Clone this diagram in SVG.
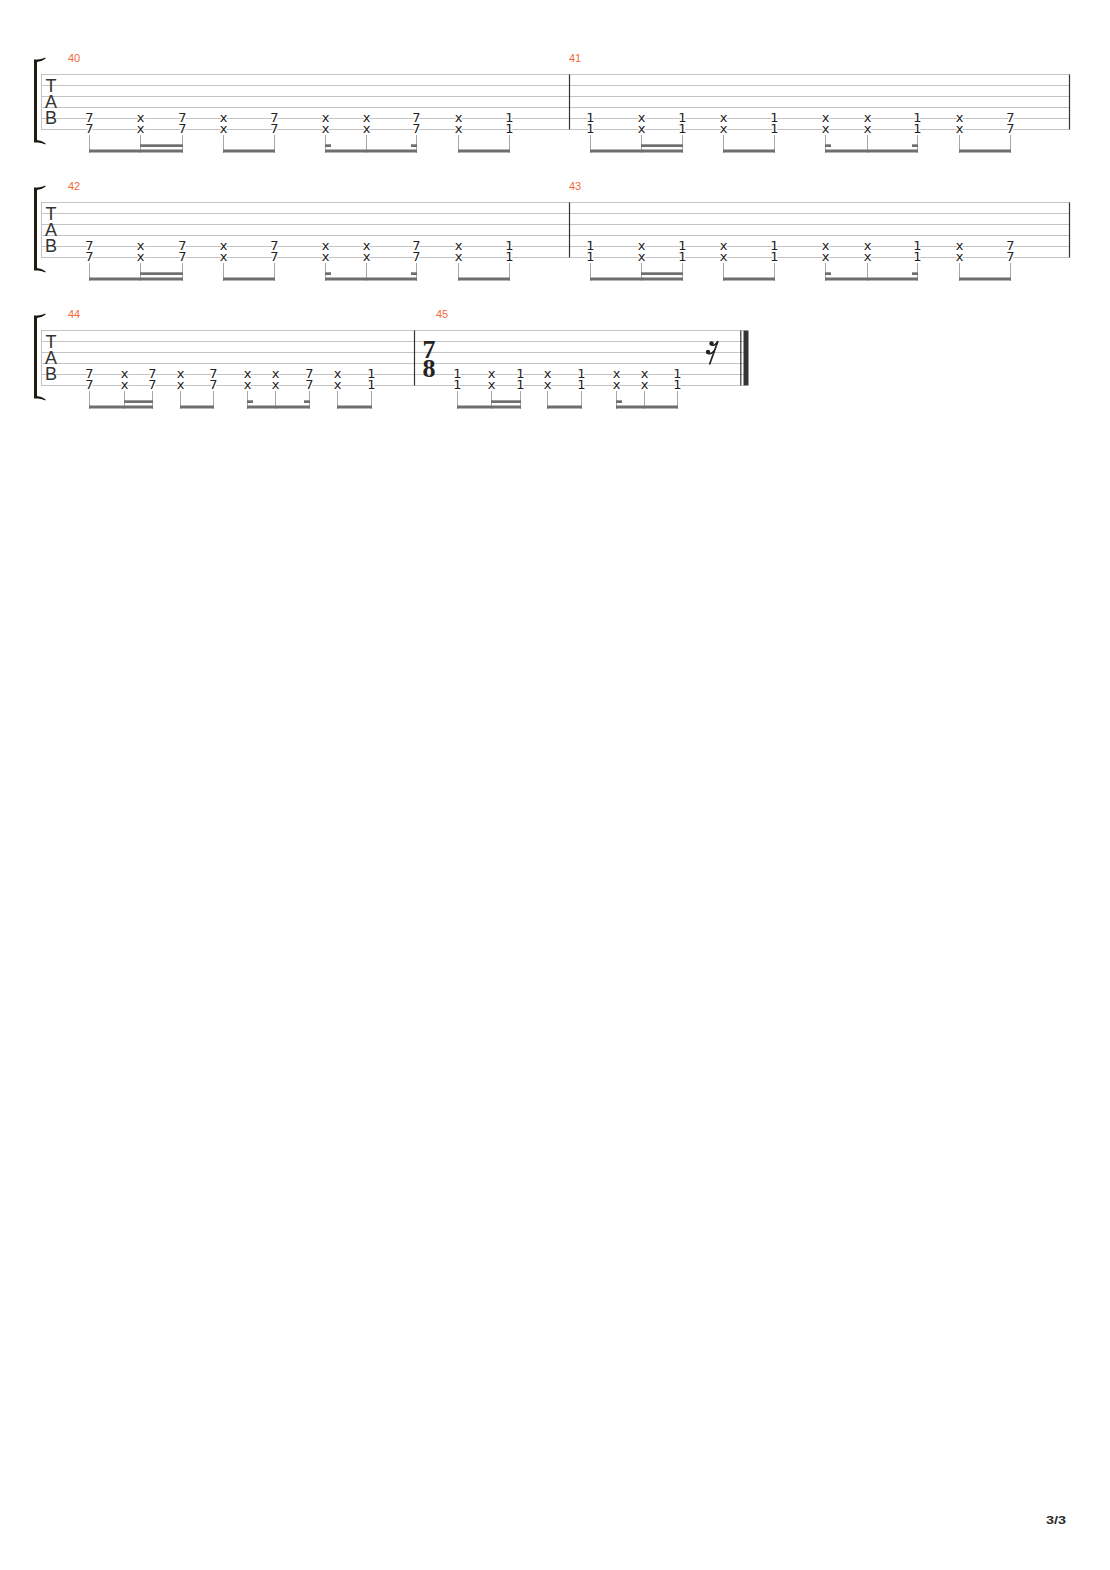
<svg xmlns="http://www.w3.org/2000/svg" xmlns:xlink="http://www.w3.org/1999/xlink" width="1110" height="1570" viewBox="0 0 1110 1570">
<style>
.sl{stroke:#c4c4c4;stroke-width:1;fill:none}
.bl{stroke:#333;stroke-width:1.2}
.n{font-family:"DejaVu Sans",sans-serif;font-size:13px;fill:#222;text-anchor:middle;paint-order:stroke;stroke:#fff;stroke-width:3px;stroke-linejoin:round}
.st{stroke:#a8a8a8;stroke-width:1}
.bm{fill:#6e6e6e}
.mn{font-family:"Liberation Sans",Arial,sans-serif;font-size:11px;fill:#f26a3a}
.tab{font-family:"Liberation Sans",Arial,sans-serif;font-size:18px;fill:#333;text-anchor:middle}
.br{fill:#1c1c10}
.ts{font-family:"Liberation Serif","Times New Roman",serif;font-weight:bold;font-size:26px;fill:#222;text-anchor:middle}
</style>
<defs>
<g id="staffhead">
<path class="br" d="M34,59.5 L38,59.5 Q42,59 45.5,57.5 L45.5,58.7 Q41.5,61.5 37,62 L37,140 Q41.5,140.5 45.5,143.3 L45.5,144.5 Q42,143 38,142.5 L34,142.5 Z"/>
<line class="sl" x1="41.5" y1="74.5" x2="41.5" y2="129.5"/>
<text class="tab" x="51" y="91.5">T</text>
<text class="tab" x="51" y="108">A</text>
<text class="tab" x="51" y="124.3">B</text>
</g>
</defs>
<rect width="1110" height="1570" fill="#fff"/>

<!-- System 1 -->
<g id="system1">
<g class="staff">
<line class="sl" x1="41" y1="74.5" x2="1070" y2="74.5"/>
<line class="sl" x1="41" y1="85.5" x2="1070" y2="85.5"/>
<line class="sl" x1="41" y1="96.5" x2="1070" y2="96.5"/>
<line class="sl" x1="41" y1="107.5" x2="1070" y2="107.5"/>
<line class="sl" x1="41" y1="118.5" x2="1070" y2="118.5"/>
<line class="sl" x1="41" y1="129.5" x2="1070" y2="129.5"/>
</g>
<use xlink:href="#staffhead"/>
<line class="bl" x1="569.5" y1="74.5" x2="569.5" y2="129.5"/>
<line class="bl" x1="1069.5" y1="74.5" x2="1069.5" y2="129.5"/>
<g id="m40">
<text class="mn" x="68" y="62">40</text>
<text class="n" x="89.5" y="121.5">7</text><text class="n" x="89.5" y="132.5">7</text>
<text class="n" x="140.5" y="121.5">x</text><text class="n" x="140.5" y="132.5">x</text>
<text class="n" x="182.5" y="121.5">7</text><text class="n" x="182.5" y="132.5">7</text>
<text class="n" x="223.5" y="121.5">x</text><text class="n" x="223.5" y="132.5">x</text>
<text class="n" x="274.5" y="121.5">7</text><text class="n" x="274.5" y="132.5">7</text>
<text class="n" x="325.5" y="121.5">x</text><text class="n" x="325.5" y="132.5">x</text>
<text class="n" x="366.5" y="121.5">x</text><text class="n" x="366.5" y="132.5">x</text>
<text class="n" x="416.5" y="121.5">7</text><text class="n" x="416.5" y="132.5">7</text>
<text class="n" x="458.5" y="121.5">x</text><text class="n" x="458.5" y="132.5">x</text>
<text class="n" x="509.5" y="121.5">1</text><text class="n" x="509.5" y="132.5">1</text>
</g>
<g id="m41">
<text class="mn" x="569" y="62">41</text>
<text class="n" x="590.5" y="121.5">1</text><text class="n" x="590.5" y="132.5">1</text>
<text class="n" x="641.5" y="121.5">x</text><text class="n" x="641.5" y="132.5">x</text>
<text class="n" x="682.5" y="121.5">1</text><text class="n" x="682.5" y="132.5">1</text>
<text class="n" x="723.5" y="121.5">x</text><text class="n" x="723.5" y="132.5">x</text>
<text class="n" x="774.5" y="121.5">1</text><text class="n" x="774.5" y="132.5">1</text>
<text class="n" x="825.5" y="121.5">x</text><text class="n" x="825.5" y="132.5">x</text>
<text class="n" x="867.5" y="121.5">x</text><text class="n" x="867.5" y="132.5">x</text>
<text class="n" x="917.5" y="121.5">1</text><text class="n" x="917.5" y="132.5">1</text>
<text class="n" x="959.5" y="121.5">x</text><text class="n" x="959.5" y="132.5">x</text>
<text class="n" x="1010.5" y="121.5">7</text><text class="n" x="1010.5" y="132.5">7</text>
</g>
<g id="beams1">
<g class="stems">
<line class="st" x1="89.5" y1="135" x2="89.5" y2="153"/><line class="st" x1="140.5" y1="135" x2="140.5" y2="153"/><line class="st" x1="182.5" y1="135" x2="182.5" y2="153"/><line class="st" x1="223.5" y1="135" x2="223.5" y2="153"/><line class="st" x1="274.5" y1="135" x2="274.5" y2="153"/><line class="st" x1="325.5" y1="135" x2="325.5" y2="153"/><line class="st" x1="366.5" y1="135" x2="366.5" y2="153"/><line class="st" x1="416.5" y1="135" x2="416.5" y2="153"/><line class="st" x1="458.5" y1="135" x2="458.5" y2="153"/><line class="st" x1="509.5" y1="135" x2="509.5" y2="153"/>
<line class="st" x1="590.5" y1="135" x2="590.5" y2="153"/><line class="st" x1="641.5" y1="135" x2="641.5" y2="153"/><line class="st" x1="682.5" y1="135" x2="682.5" y2="153"/><line class="st" x1="723.5" y1="135" x2="723.5" y2="153"/><line class="st" x1="774.5" y1="135" x2="774.5" y2="153"/><line class="st" x1="825.5" y1="135" x2="825.5" y2="153"/><line class="st" x1="867.5" y1="135" x2="867.5" y2="153"/><line class="st" x1="917.5" y1="135" x2="917.5" y2="153"/><line class="st" x1="959.5" y1="135" x2="959.5" y2="153"/><line class="st" x1="1010.5" y1="135" x2="1010.5" y2="153"/>
</g>
<rect class="bm" x="89" y="149.5" width="94" height="3"/><rect class="bm" x="223" y="149.5" width="52" height="3"/><rect class="bm" x="325" y="149.5" width="92" height="3"/><rect class="bm" x="458" y="149.5" width="52" height="3"/>
<rect class="bm" x="140" y="144.3" width="43" height="2.7"/><rect class="bm" x="325" y="144.3" width="6" height="2.7"/><rect class="bm" x="411" y="144.3" width="6" height="2.7"/>
<rect class="bm" x="590" y="149.5" width="93" height="3"/><rect class="bm" x="723" y="149.5" width="52" height="3"/><rect class="bm" x="825" y="149.5" width="93" height="3"/><rect class="bm" x="959" y="149.5" width="52" height="3"/>
<rect class="bm" x="641" y="144.3" width="42" height="2.7"/><rect class="bm" x="825" y="144.3" width="6" height="2.7"/><rect class="bm" x="912" y="144.3" width="6" height="2.7"/>
</g>
</g>

<!-- System 2 -->
<g id="system2" transform="translate(0,128)">
<g class="staff">
<line class="sl" x1="41" y1="74.5" x2="1070" y2="74.5"/>
<line class="sl" x1="41" y1="85.5" x2="1070" y2="85.5"/>
<line class="sl" x1="41" y1="96.5" x2="1070" y2="96.5"/>
<line class="sl" x1="41" y1="107.5" x2="1070" y2="107.5"/>
<line class="sl" x1="41" y1="118.5" x2="1070" y2="118.5"/>
<line class="sl" x1="41" y1="129.5" x2="1070" y2="129.5"/>
</g>
<use xlink:href="#staffhead"/>
<line class="bl" x1="569.5" y1="74.5" x2="569.5" y2="129.5"/>
<line class="bl" x1="1069.5" y1="74.5" x2="1069.5" y2="129.5"/>
<g id="m42">
<text class="mn" x="68" y="62">42</text>
<text class="n" x="89.5" y="121.5">7</text><text class="n" x="89.5" y="132.5">7</text>
<text class="n" x="140.5" y="121.5">x</text><text class="n" x="140.5" y="132.5">x</text>
<text class="n" x="182.5" y="121.5">7</text><text class="n" x="182.5" y="132.5">7</text>
<text class="n" x="223.5" y="121.5">x</text><text class="n" x="223.5" y="132.5">x</text>
<text class="n" x="274.5" y="121.5">7</text><text class="n" x="274.5" y="132.5">7</text>
<text class="n" x="325.5" y="121.5">x</text><text class="n" x="325.5" y="132.5">x</text>
<text class="n" x="366.5" y="121.5">x</text><text class="n" x="366.5" y="132.5">x</text>
<text class="n" x="416.5" y="121.5">7</text><text class="n" x="416.5" y="132.5">7</text>
<text class="n" x="458.5" y="121.5">x</text><text class="n" x="458.5" y="132.5">x</text>
<text class="n" x="509.5" y="121.5">1</text><text class="n" x="509.5" y="132.5">1</text>
</g>
<g id="m43">
<text class="mn" x="569" y="62">43</text>
<text class="n" x="590.5" y="121.5">1</text><text class="n" x="590.5" y="132.5">1</text>
<text class="n" x="641.5" y="121.5">x</text><text class="n" x="641.5" y="132.5">x</text>
<text class="n" x="682.5" y="121.5">1</text><text class="n" x="682.5" y="132.5">1</text>
<text class="n" x="723.5" y="121.5">x</text><text class="n" x="723.5" y="132.5">x</text>
<text class="n" x="774.5" y="121.5">1</text><text class="n" x="774.5" y="132.5">1</text>
<text class="n" x="825.5" y="121.5">x</text><text class="n" x="825.5" y="132.5">x</text>
<text class="n" x="867.5" y="121.5">x</text><text class="n" x="867.5" y="132.5">x</text>
<text class="n" x="917.5" y="121.5">1</text><text class="n" x="917.5" y="132.5">1</text>
<text class="n" x="959.5" y="121.5">x</text><text class="n" x="959.5" y="132.5">x</text>
<text class="n" x="1010.5" y="121.5">7</text><text class="n" x="1010.5" y="132.5">7</text>
</g>
<g id="beams2">
<g class="stems">
<line class="st" x1="89.5" y1="135" x2="89.5" y2="153"/><line class="st" x1="140.5" y1="135" x2="140.5" y2="153"/><line class="st" x1="182.5" y1="135" x2="182.5" y2="153"/><line class="st" x1="223.5" y1="135" x2="223.5" y2="153"/><line class="st" x1="274.5" y1="135" x2="274.5" y2="153"/><line class="st" x1="325.5" y1="135" x2="325.5" y2="153"/><line class="st" x1="366.5" y1="135" x2="366.5" y2="153"/><line class="st" x1="416.5" y1="135" x2="416.5" y2="153"/><line class="st" x1="458.5" y1="135" x2="458.5" y2="153"/><line class="st" x1="509.5" y1="135" x2="509.5" y2="153"/>
<line class="st" x1="590.5" y1="135" x2="590.5" y2="153"/><line class="st" x1="641.5" y1="135" x2="641.5" y2="153"/><line class="st" x1="682.5" y1="135" x2="682.5" y2="153"/><line class="st" x1="723.5" y1="135" x2="723.5" y2="153"/><line class="st" x1="774.5" y1="135" x2="774.5" y2="153"/><line class="st" x1="825.5" y1="135" x2="825.5" y2="153"/><line class="st" x1="867.5" y1="135" x2="867.5" y2="153"/><line class="st" x1="917.5" y1="135" x2="917.5" y2="153"/><line class="st" x1="959.5" y1="135" x2="959.5" y2="153"/><line class="st" x1="1010.5" y1="135" x2="1010.5" y2="153"/>
</g>
<rect class="bm" x="89" y="149.5" width="94" height="3"/><rect class="bm" x="223" y="149.5" width="52" height="3"/><rect class="bm" x="325" y="149.5" width="92" height="3"/><rect class="bm" x="458" y="149.5" width="52" height="3"/>
<rect class="bm" x="140" y="144.3" width="43" height="2.7"/><rect class="bm" x="325" y="144.3" width="6" height="2.7"/><rect class="bm" x="411" y="144.3" width="6" height="2.7"/>
<rect class="bm" x="590" y="149.5" width="93" height="3"/><rect class="bm" x="723" y="149.5" width="52" height="3"/><rect class="bm" x="825" y="149.5" width="93" height="3"/><rect class="bm" x="959" y="149.5" width="52" height="3"/>
<rect class="bm" x="641" y="144.3" width="42" height="2.7"/><rect class="bm" x="825" y="144.3" width="6" height="2.7"/><rect class="bm" x="912" y="144.3" width="6" height="2.7"/>
</g>
</g>

<!-- System 3 -->
<g id="system3" transform="translate(0,256)">
<g class="staff">
<line class="sl" x1="41" y1="74.5" x2="745" y2="74.5"/>
<line class="sl" x1="41" y1="85.5" x2="745" y2="85.5"/>
<line class="sl" x1="41" y1="96.5" x2="745" y2="96.5"/>
<line class="sl" x1="41" y1="107.5" x2="745" y2="107.5"/>
<line class="sl" x1="41" y1="118.5" x2="745" y2="118.5"/>
<line class="sl" x1="41" y1="129.5" x2="745" y2="129.5"/>
</g>
<use xlink:href="#staffhead"/>
<line class="bl" x1="414.5" y1="74.5" x2="414.5" y2="129.5"/>
<line class="bl" x1="740.8" y1="74.5" x2="740.8" y2="129.5"/>
<rect x="743.5" y="74.5" width="5" height="55" fill="#333"/>
<g id="m44">
<text class="mn" x="68" y="62">44</text>
<text class="n" x="89.5" y="121.5">7</text><text class="n" x="89.5" y="132.5">7</text>
<text class="n" x="124.5" y="121.5">x</text><text class="n" x="124.5" y="132.5">x</text>
<text class="n" x="152.5" y="121.5">7</text><text class="n" x="152.5" y="132.5">7</text>
<text class="n" x="180.5" y="121.5">x</text><text class="n" x="180.5" y="132.5">x</text>
<text class="n" x="213.5" y="121.5">7</text><text class="n" x="213.5" y="132.5">7</text>
<text class="n" x="247.5" y="121.5">x</text><text class="n" x="247.5" y="132.5">x</text>
<text class="n" x="275.5" y="121.5">x</text><text class="n" x="275.5" y="132.5">x</text>
<text class="n" x="309.5" y="121.5">7</text><text class="n" x="309.5" y="132.5">7</text>
<text class="n" x="337.5" y="121.5">x</text><text class="n" x="337.5" y="132.5">x</text>
<text class="n" x="371.5" y="121.5">1</text><text class="n" x="371.5" y="132.5">1</text>
</g>
<g id="m45">
<text class="mn" x="436" y="62">45</text>
<text class="ts" x="429" y="102">7</text>
<text class="ts" x="429" y="121">8</text>
<text class="n" x="457.5" y="121.5">1</text><text class="n" x="457.5" y="132.5">1</text>
<text class="n" x="491.5" y="121.5">x</text><text class="n" x="491.5" y="132.5">x</text>
<text class="n" x="520.5" y="121.5">1</text><text class="n" x="520.5" y="132.5">1</text>
<text class="n" x="547.5" y="121.5">x</text><text class="n" x="547.5" y="132.5">x</text>
<text class="n" x="581.5" y="121.5">1</text><text class="n" x="581.5" y="132.5">1</text>
<text class="n" x="616.5" y="121.5">x</text><text class="n" x="616.5" y="132.5">x</text>
<text class="n" x="644.5" y="121.5">x</text><text class="n" x="644.5" y="132.5">x</text>
<text class="n" x="677.5" y="121.5">1</text><text class="n" x="677.5" y="132.5">1</text>
<g id="rest16" fill="#222" stroke="#222">
<line x1="718" y1="85" x2="709.5" y2="108.5" stroke-width="1.7"/>
<circle cx="711.5" cy="87.5" r="2.2" stroke="none"/>
<circle cx="708" cy="96" r="2.2" stroke="none"/>
<path d="M711.5,89 Q714,90.5 717.6,86" fill="none" stroke-width="1.4"/>
<path d="M708,97.5 Q711,99 714.4,94.5" fill="none" stroke-width="1.4"/>
</g>
</g>
<g id="beams3">
<g class="stems">
<line class="st" x1="89.5" y1="135" x2="89.5" y2="153"/><line class="st" x1="124.5" y1="135" x2="124.5" y2="153"/><line class="st" x1="152.5" y1="135" x2="152.5" y2="153"/><line class="st" x1="180.5" y1="135" x2="180.5" y2="153"/><line class="st" x1="213.5" y1="135" x2="213.5" y2="153"/><line class="st" x1="247.5" y1="135" x2="247.5" y2="153"/><line class="st" x1="275.5" y1="135" x2="275.5" y2="153"/><line class="st" x1="309.5" y1="135" x2="309.5" y2="153"/><line class="st" x1="337.5" y1="135" x2="337.5" y2="153"/><line class="st" x1="371.5" y1="135" x2="371.5" y2="153"/>
<line class="st" x1="457.5" y1="135" x2="457.5" y2="153"/><line class="st" x1="491.5" y1="135" x2="491.5" y2="153"/><line class="st" x1="520.5" y1="135" x2="520.5" y2="153"/><line class="st" x1="547.5" y1="135" x2="547.5" y2="153"/><line class="st" x1="581.5" y1="135" x2="581.5" y2="153"/><line class="st" x1="616.5" y1="135" x2="616.5" y2="153"/><line class="st" x1="644.5" y1="135" x2="644.5" y2="153"/><line class="st" x1="677.5" y1="135" x2="677.5" y2="153"/>
</g>
<rect class="bm" x="89" y="149.5" width="64" height="3"/><rect class="bm" x="180" y="149.5" width="34" height="3"/><rect class="bm" x="247" y="149.5" width="63" height="3"/><rect class="bm" x="337" y="149.5" width="35" height="3"/>
<rect class="bm" x="124" y="144.3" width="29" height="2.7"/><rect class="bm" x="247" y="144.3" width="6" height="2.7"/><rect class="bm" x="304" y="144.3" width="6" height="2.7"/>
<rect class="bm" x="457" y="149.5" width="64" height="3"/><rect class="bm" x="547" y="149.5" width="35" height="3"/><rect class="bm" x="616" y="149.5" width="62" height="3"/>
<rect class="bm" x="491" y="144.3" width="30" height="2.7"/><rect class="bm" x="616" y="144.3" width="6" height="2.7"/>
</g>
</g>

<text id="pagenum" x="1046" y="1524" font-family="Liberation Sans, Arial, sans-serif" font-weight="bold" font-size="11" fill="#2a2a2a" textLength="20" lengthAdjust="spacingAndGlyphs">3/3</text>
</svg>
